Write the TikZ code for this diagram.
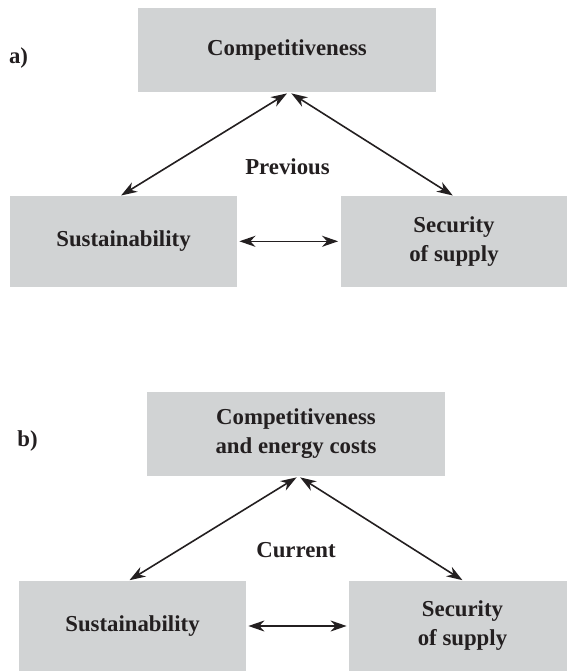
\documentclass[tikz,border=0pt]{standalone}
\usepackage{fontspec}
\setmainfont{Liberation Serif}
\usetikzlibrary{arrows.meta}
\definecolor{boxgray}{HTML}{D1D3D4}
\definecolor{inkblack}{HTML}{231F20}

\begin{document}
\begin{tikzpicture}[x=0.5pt,y=-0.5pt,
    >={Stealth[length=8pt,width=5.5pt,inset=2.5pt]},
    every node/.style={text=inkblack,font=\fontsize{11.4}{14.5}\selectfont\bfseries},
    topbox/.style={fill=boxgray,inner sep=0pt,minimum width=149pt,minimum height=42pt,align=center},
    sidebox/.style={fill=boxgray,inner sep=0pt,minimum width=113.5pt,minimum height=45.4pt,align=center},
    link/.style={draw=inkblack,line width=0.8pt,<->}]
    \clip (0,0) rectangle (567,671);

    % a) previous
    \node (tagA) at (18.5,63) [anchor=base] {a)};
    \node (compA) at (287,50) [topbox] {Competitiveness};
    \node (sustA) at (123.5,241.3) [sidebox] {Sustainability};
    \node (secA) at (454,241.3) [sidebox] {Security\\of supply};
    \node (prev) at (287.5,166.5) {Previous};

    \draw[link] ([xshift=-1.2pt]sustA.north) -- ([yshift=-0.5pt]compA.south);
    \draw[link] ([xshift=2.2pt,yshift=-0.5pt]compA.south) -- ([xshift=-0.6pt]secA.north);
    \draw[link,shorten <=1pt,shorten >=1pt] (sustA.east) -- (secA.west);

    % b) current
    \node (tagB) at (27.5,446) [anchor=base] {b)};
    \node (compB) at (296,434) [topbox] {Competitiveness\\and energy costs};
    \node (sustB) at (132.5,626) [sidebox] {Sustainability};
    \node (secB) at (462.5,626) [sidebox] {Security\\of supply};
    \node (curr) at (296,550.5) {Current};

    \draw[link] ([xshift=-1.5pt]sustB.north) -- ([xshift=0.3pt,yshift=-0.5pt]compB.south);
    \draw[link] ([xshift=2.1pt,yshift=-0.5pt]compB.south) -- (secB.north);
    \draw[link,shorten <=1pt,shorten >=1pt] (sustB.east) -- (secB.west);
\end{tikzpicture}
\end{document}
